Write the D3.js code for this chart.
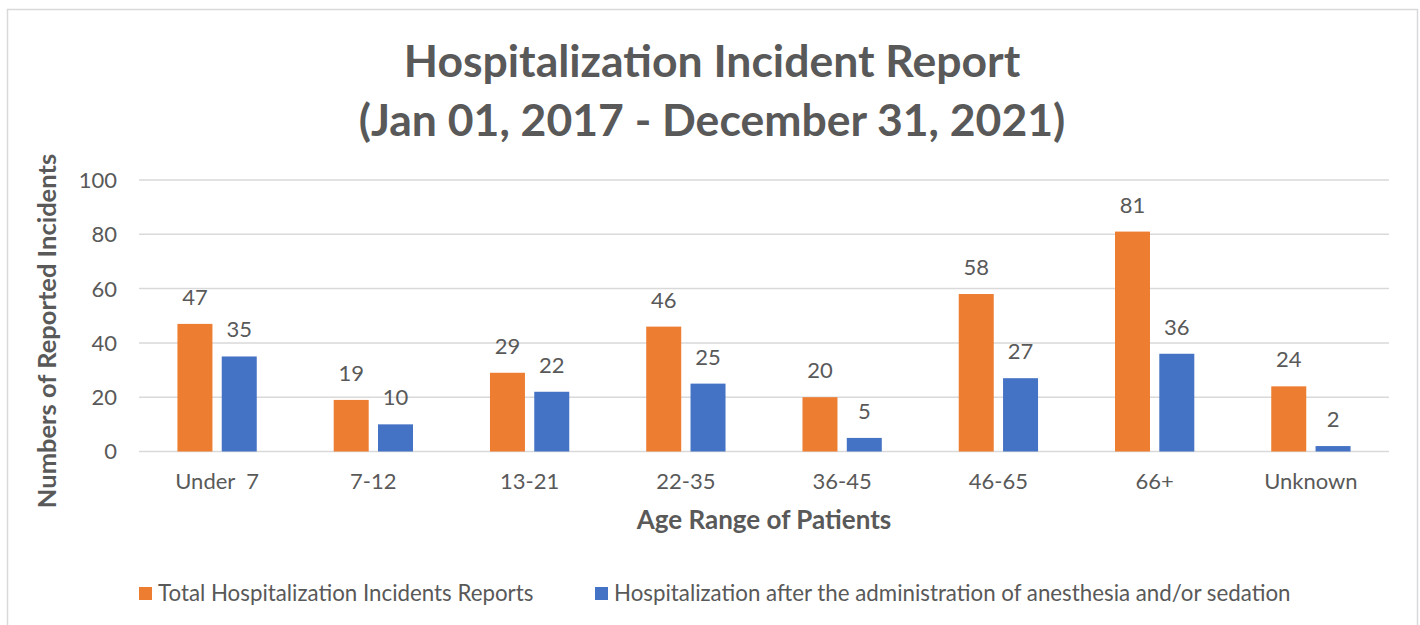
<!DOCTYPE html>
<html>
<head>
<meta charset="utf-8">
<script src="https://cdn.jsdelivr.net/npm/d3@7"></script>
<style>
  html, body { margin: 0; padding: 0; background: #fff; }
  svg text { font-family: Lato, "Open Sans", sans-serif; fill: #595959; }
</style>
</head>
<body>
<svg id="chart" width="1420" height="625"></svg>
<script>
const categories = ["Under  7", "7-12", "13-21", "22-35", "36-45", "46-65", "66+", "Unknown"];
const seriesNames = ["Total Hospitalization Incidents Reports", "Hospitalization after the administration of anesthesia and/or sedation"];
const totalReports = [47, 19, 29, 46, 20, 58, 81, 24];
const anesthesiaReports = [35, 10, 22, 25, 5, 27, 36, 2];
const yTicks = [0, 20, 40, 60, 80, 100];
const titleLines = ["Hospitalization Incident Report", "(Jan 01, 2017 - December 31, 2021)"];
const xTitle = "Age Range of Patients";
const yTitle = "Numbers of Reported Incidents";
const colors = ["#ED7D31", "#4472C4"];

const svg = d3.select("#chart");
svg.append("rect").attr("x", 7.5).attr("y", 9.5).attr("width", 1410).attr("height", 640)
  .attr("fill", "#fff").attr("stroke", "#d9d9d9").attr("stroke-width", 1.5);

const plot = { left: 139, right: 1389, top: 180, bottom: 451.5 };
const x0 = d3.scaleBand().domain(categories).range([plot.left, plot.right]).paddingInner(0.4925).paddingOuter(0.246);
const x1 = d3.scaleBand().domain([0, 1]).range([0, x0.bandwidth()]).paddingInner(0.21);
const y = d3.scaleLinear().domain([0, 100]).range([plot.bottom, plot.top]);

// gridlines
svg.append("g").selectAll("line").data(yTicks).join("line")
  .attr("x1", plot.left).attr("x2", plot.right)
  .attr("y1", d => y(d)).attr("y2", d => y(d))
  .attr("stroke", "#d9d9d9").attr("stroke-width", 1.5);

// y tick labels
svg.append("g").selectAll("text").data(yTicks).join("text")
  .attr("x", 117).attr("y", d => y(d)).attr("dy", "0.36em")
  .attr("text-anchor", "end").style("font-size", "22px").text(d => d);

// bars
const series = [totalReports, anesthesiaReports];
series.forEach((vals, si) => {
  const g = svg.append("g");
  g.selectAll("rect").data(vals).join("rect")
    .attr("x", (d, i) => x0(categories[i]) + x1(si))
    .attr("width", x1.bandwidth())
    .attr("y", d => y(d))
    .attr("height", d => y(0) - y(d))
    .attr("fill", colors[si]);
  g.selectAll("text").data(vals).join("text")
    .attr("x", (d, i) => x0(categories[i]) + x1(si) + x1.bandwidth() / 2)
    .attr("y", d => y(d) - 19)
    .attr("text-anchor", "middle").style("font-size", "22px").text(d => d);
});

// category labels
svg.append("g").selectAll("text").data(categories).join("text")
  .attr("x", d => x0(d) + x0.bandwidth() / 2).attr("y", 489)
  .attr("text-anchor", "middle").style("font-size", "22px").style("white-space", "pre")
  .text(d => d);

// axis titles
svg.append("text").attr("x", (plot.left + plot.right) / 2).attr("y", 529)
  .attr("text-anchor", "middle").style("font-size", "26px").style("font-weight", "bold").text(xTitle);
svg.append("text").attr("transform", "translate(56,331) rotate(-90)")
  .attr("text-anchor", "middle").style("font-size", "25.5px").style("font-weight", "bold").text(yTitle);

// title
svg.append("g").selectAll("text").data(titleLines).join("text")
  .attr("x", 712).attr("y", (d, i) => 77 + i * 59)
  .attr("text-anchor", "middle").style("font-size", "44.5px").style("font-weight", "bold").text(d => d);

// legend
const legendX = [139, 595];
seriesNames.forEach((name, i) => {
  svg.append("rect").attr("x", legendX[i]).attr("y", 587).attr("width", 13).attr("height", 13).attr("fill", colors[i]);
  svg.append("text").attr("x", legendX[i] + 19).attr("y", 600.5).style("font-size", "22.3px").text(name);
});
</script>
</body>
</html>
